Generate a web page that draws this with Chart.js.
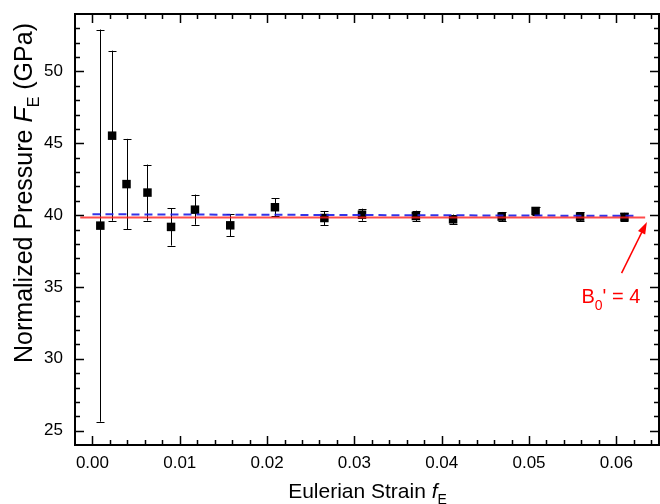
<!DOCTYPE html>
<html>
<head>
<meta charset="utf-8">
<script src="https://cdn.jsdelivr.net/npm/chart.js@4/dist/chart.umd.min.js"></script>
<style>
  html, body { margin: 0; padding: 0; background: #fff; }
  canvas { display: block; }
</style>
</head>
<body>
<canvas id="chart" width="660" height="504"></canvas>
<script>
// Eulerian strain f_E and normalized pressure F_E (GPa) with error
const strain = [0.0009, 0.00225, 0.0039, 0.0063, 0.0090, 0.01174, 0.01578, 0.0209,
  0.02656, 0.03087, 0.03704, 0.0413, 0.04687, 0.05075, 0.05585, 0.06093];
const pressure = [39.27, 45.53, 42.16, 41.57, 39.18, 40.38, 39.29, 40.55,
  39.80, 40.03, 39.94, 39.71, 39.90, 40.29, 39.90, 39.88];
const pressureErr = [13.65, 5.92, 3.15, 1.95, 1.30, 1.05, 0.77, 0.62,
  0.49, 0.42, 0.37, 0.33, 0.32, 0.25, 0.30, 0.28];

// fit lines
const fitRedX = [-0.0014, 0.0633];
const fitRedY = [39.83, 39.83];
const fitBlueX = [0.0, 0.062];
const fitBlueY = [40.06, 39.95];

// axis ticks
const xTicks = [0, 0.01, 0.02, 0.03, 0.04, 0.05, 0.06];
const yTicks = [25, 30, 35, 40, 45, 50];

// annotation: arrow from label towards the fit line
const arrowFrom = [0.0606, 35.96];
const arrowTo = [0.0635, 39.52];
const labelAt = [0.0560, 33.87];

const FONT = '"Liberation Sans", Arial, sans-serif';

function drawRich(ctx, parts, x, y) {
  // parts: [text, style, size, dy]
  let total = 0;
  parts.forEach(p => { ctx.font = p[1] + ' ' + p[2] + 'px ' + FONT; total += ctx.measureText(p[0]).width; });
  let cx = x - total / 2;
  parts.forEach(p => {
    ctx.font = p[1] + ' ' + p[2] + 'px ' + FONT;
    ctx.fillText(p[0], cx, y + p[3]);
    cx += ctx.measureText(p[0]).width;
  });
}

const framePlugin = {
  id: 'frame',
  beforeDatasetsDraw(chart) {
    const { ctx, scales: { x, y } } = chart;
    ctx.save();
    ctx.strokeStyle = '#000';
    ctx.lineWidth = 1;
    strain.forEach((s, i) => {
      const px = Math.round(x.getPixelForValue(s)) + 0.5;
      const top = y.getPixelForValue(pressure[i] + pressureErr[i]);
      const bot = y.getPixelForValue(pressure[i] - pressureErr[i]);
      ctx.beginPath();
      ctx.moveTo(px, top); ctx.lineTo(px, bot);
      ctx.moveTo(px - 4, Math.round(top) + 0.5); ctx.lineTo(px + 4, Math.round(top) + 0.5);
      ctx.moveTo(px - 4, Math.round(bot) + 0.5); ctx.lineTo(px + 4, Math.round(bot) + 0.5);
      ctx.stroke();
    });
    ctx.restore();
  },
  afterDraw(chart) {
    const { ctx, chartArea: a, scales: { x, y } } = chart;
    ctx.save();
    // frame
    ctx.strokeStyle = '#000';
    ctx.lineWidth = 2;
    ctx.strokeRect(a.left, a.top, a.right - a.left - 1, a.bottom - a.top);
    // inward ticks on all four sides
    ctx.lineWidth = 1.5;
    ctx.beginPath();
    for (let k = 0; k <= 32; k++) {
      const v = k * 0.002;
      const px = Math.round(x.getPixelForValue(v)) + 0.5;
      const len = (k % 5 === 0) ? 9 : 5;
      ctx.moveTo(px, a.bottom); ctx.lineTo(px, a.bottom - len);
      ctx.moveTo(px, a.top); ctx.lineTo(px, a.top + len);
    }
    for (let v = 25; v <= 53; v++) {
      const py = Math.round(y.getPixelForValue(v)) + 0.5;
      const len = (v % 5 === 0) ? 9 : 5;
      ctx.moveTo(a.left, py); ctx.lineTo(a.left + len, py);
      ctx.moveTo(a.right - 1, py); ctx.lineTo(a.right - 1 - len, py);
    }
    ctx.stroke();

    // arrow
    const x1 = x.getPixelForValue(arrowFrom[0]), y1 = y.getPixelForValue(arrowFrom[1]);
    const x2 = x.getPixelForValue(arrowTo[0]), y2 = y.getPixelForValue(arrowTo[1]);
    const ang = Math.atan2(y2 - y1, x2 - x1);
    ctx.strokeStyle = '#ff0000';
    ctx.fillStyle = '#ff0000';
    ctx.lineWidth = 1.5;
    ctx.beginPath();
    ctx.moveTo(x1, y1);
    ctx.lineTo(x2 - 8 * Math.cos(ang), y2 - 8 * Math.sin(ang));
    ctx.stroke();
    ctx.beginPath();
    ctx.moveTo(x2, y2);
    ctx.lineTo(x2 - 12 * Math.cos(ang) + 4 * Math.sin(ang), y2 - 12 * Math.sin(ang) - 4 * Math.cos(ang));
    ctx.lineTo(x2 - 12 * Math.cos(ang) - 4 * Math.sin(ang), y2 - 12 * Math.sin(ang) + 4 * Math.cos(ang));
    ctx.closePath();
    ctx.fill();

    // label B0' = 4
    ctx.textAlign = 'left';
    ctx.textBaseline = 'alphabetic';
    let lx = x.getPixelForValue(labelAt[0]);
    const ly = y.getPixelForValue(labelAt[1]);
    ctx.font = '20px ' + FONT;
    ctx.fillText('B', lx, ly);
    lx += ctx.measureText('B').width;
    ctx.font = '14px ' + FONT;
    ctx.fillText('0', lx, ly + 7);
    lx += ctx.measureText('0').width;
    ctx.font = '20px ' + FONT;
    ctx.fillText("' = 4", lx, ly);

    // axis titles
    ctx.fillStyle = '#000';
    ctx.textAlign = 'left';
    drawRich(ctx, [
      ['Eulerian Strain ', '', 21, 0],
      ['f', 'italic', 21, 0],
      ['E', '', 14, 6]
    ], (a.left + a.right) / 2, 498);

    ctx.save();
    ctx.translate(32, 193);
    ctx.rotate(-Math.PI / 2);
    drawRich(ctx, [
      ['Normalized Pressure ', '', 25, 0],
      ['F', 'italic', 25, 0],
      ['E', '', 16, 7],
      [' (GPa)', '', 25, 0]
    ], 0, 0);
    ctx.restore();
    ctx.restore();
  }
};

const zip = (xs, ys) => xs.map((v, i) => ({ x: v, y: ys[i] }));

new Chart(document.getElementById('chart').getContext('2d'), {
  type: 'scatter',
  data: {
    datasets: [
      {
        type: 'line',
        data: zip(fitRedX, fitRedY),
        borderColor: 'rgba(255, 30, 30, 0.8)',
        borderWidth: 2,
        pointRadius: 0,
        order: 0
      },
      {
        type: 'line',
        data: zip(fitBlueX, fitBlueY),
        borderColor: 'rgba(30, 30, 230, 0.9)',
        borderWidth: 2,
        borderDash: [8, 5],
        pointRadius: 0,
        order: 0
      },
      {
        data: zip(strain, pressure),
        pointStyle: 'rect',
        pointRadius: 6,
        backgroundColor: '#000',
        borderWidth: 0,
        order: 1
      }
    ]
  },
  options: {
    responsive: false,
    animation: false,
    layout: { padding: { top: 14, left: 0, right: 0, bottom: 0 }, autoPadding: false },
    plugins: { legend: { display: false }, tooltip: { enabled: false } },
    scales: {
      x: {
        type: 'linear',
        min: -0.002,
        max: 0.065,
        grid: { display: false, drawTicks: false },
        border: { display: false },
        afterBuildTicks: s => { s.ticks = xTicks.map(v => ({ value: v })); },
        afterFit: s => { s.height = 59; s.paddingLeft = 0; s.paddingRight = 0; },
        ticks: {
          callback: v => v.toFixed(2),
          color: '#000',
          font: { size: 17, family: FONT },
          padding: 8,
          maxRotation: 0,
          autoSkip: false
        }
      },
      y: {
        type: 'linear',
        min: 24,
        max: 54,
        grid: { display: false, drawTicks: false },
        border: { display: false },
        afterBuildTicks: s => { s.ticks = yTicks.map(v => ({ value: v })); },
        afterFit: s => { s.width = 75; s.paddingTop = 0; s.paddingBottom = 0; },
        ticks: {
          callback: v => String(v),
          color: '#000',
          font: { size: 17, family: FONT },
          padding: 12,
          autoSkip: false
        }
      }
    }
  },
  plugins: [framePlugin]
});
</script>
</body>
</html>
